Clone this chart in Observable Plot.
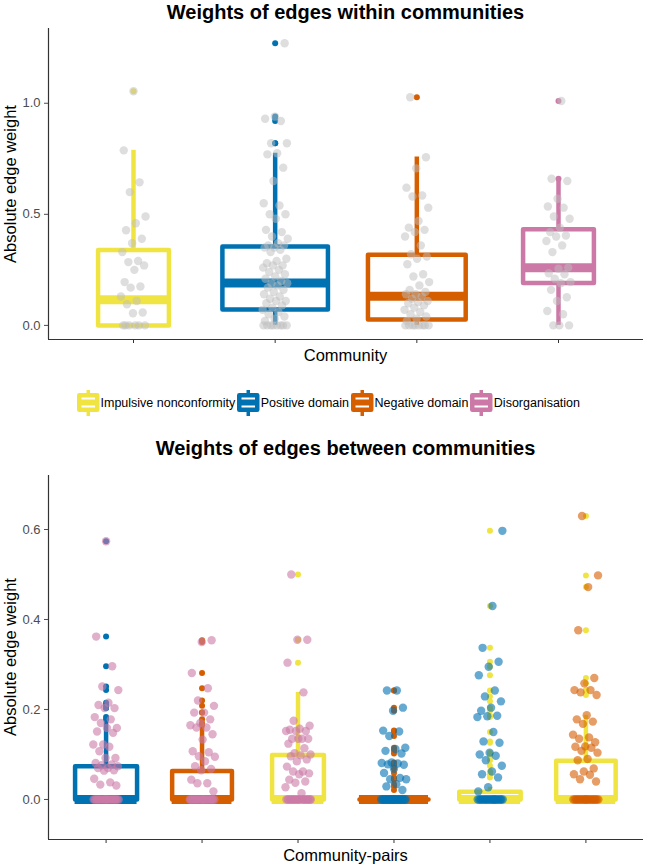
<!DOCTYPE html>
<html><head><meta charset="utf-8">
<script src="https://cdn.jsdelivr.net/npm/d3@7"></script>
<script src="https://cdn.jsdelivr.net/npm/@observablehq/plot@0.6"></script>
<style>
body{margin:0;background:#fff;font-family:"Liberation Sans",Arial,sans-serif;}
#wrap{position:relative;width:646px;height:866px;overflow:hidden;}
.abs{position:absolute;}
.title{left:48px;width:595px;text-align:center;font-weight:bold;font-size:20px;line-height:24px;color:#000;white-space:nowrap;}
.xlab{left:48px;width:595px;text-align:center;font-size:16.5px;line-height:20px;color:#000;white-space:nowrap;}
.ylab{width:300px;height:20px;text-align:center;font-size:16.5px;line-height:20px;color:#000;transform:rotate(-90deg);white-space:nowrap;}
.legend{display:flex;align-items:center;font-size:12.5px;color:#000;white-space:nowrap;}
.legend span{margin-left:1px;margin-right:2px;}
svg{overflow:visible;}
</style></head>
<body><div id="wrap"></div>
<script>
// ---------- shared ----------
const communities = ["Impulsive nonconformity", "Positive domain", "Negative domain", "Disorganisation"];
const communityColors = ["#F0E442", "#0072B2", "#D55E00", "#CC79A7"];

// ---------- top panel: within communities ----------
const withinImpulsive = [1.054, 0.788, 0.644, 0.60, 0.49, 0.46, 0.428, 0.39, 0.37, 0.33, 0.29, 0.285, 0.27, 0.25, 0.195, 0.175, 0.17, 0.13, 0.11, 0.095, 0.058, 0.055, 0, 0, 0, 0, 0, 0];
const withinPositive = [1.27, 0.94, 0.93, 0.92, 0.82, 0.82, 0.775, 0.77, 0.71, 0.65, 0.55, 0.54, 0.50, 0.50, 0.48, 0.43, 0.42, 0.40, 0.39, 0.37, 0.36, 0.36, 0.35, 0.35, 0.34, 0.33, 0.30, 0.29, 0.28, 0.27, 0.27, 0.26, 0.25, 0.24, 0.23, 0.22, 0.21, 0.20, 0.19, 0.19, 0.18, 0.17, 0.16, 0.15, 0.14, 0.13, 0.12, 0.11, 0.11, 0.10, 0.09, 0.08, 0.07, 0.06, 0.05, 0.04, 0.03, 0.02, 0, 0, 0, 0, 0, 0, 0, 0];
const withinNegative = [1.027, 0.757, 0.707, 0.62, 0.585, 0.58, 0.53, 0.47, 0.44, 0.43, 0.42, 0.40, 0.36, 0.32, 0.31, 0.30, 0.275, 0.23, 0.22, 0.195, 0.18, 0.16, 0.15, 0.14, 0.14, 0.13, 0.12, 0.11, 0.105, 0.10, 0.09, 0.08, 0.07, 0.06, 0.05, 0.04, 0.03, 0.02, 0, 0, 0, 0, 0, 0, 0, 0];
const withinDisorganisation = [1.01, 0.66, 0.65, 0.57, 0.535, 0.53, 0.49, 0.48, 0.44, 0.42, 0.405, 0.40, 0.38, 0.36, 0.33, 0.26, 0.255, 0.235, 0.23, 0.21, 0.195, 0.19, 0.16, 0.127, 0.11, 0.065, 0.05, 0, 0, 0];
const withinLower  = [0, 0, 0, 0];
const withinQ1     = [0, 0.071, 0.026, 0.191];
const withinMedian = [0.115, 0.191, 0.131, 0.259];
const withinQ3     = [0.339, 0.355, 0.318, 0.433];
const withinUpper  = [0.788, 0.775, 0.758, 0.658];
const withinTicks  = [0, 0.5, 1.0];

// ---------- bottom panel: between communities ----------
const pairBoxCommunity   = [1, 2, 0, 2, 0, 0];   // community colouring the boxplot
const pairPointCommunity = [3, 3, 3, 1, 1, 2];   // community colouring the points
const between1 = [0.574, 0.362, 0.296, 0.251, 0.243, 0.215, 0.21, 0.203, 0.203, 0.183, 0.178, 0.17, 0.159, 0.159, 0.151, 0.148, 0.122, 0.122, 0.117, 0.107, 0.092, 0.092, 0.081, 0.078, 0.076, 0.074, 0.07, 0.07, 0.065, 0.064, 0.046, 0.038, 0.033, 0.031, 0, 0, 0, 0, 0, 0, 0, 0, 0, 0, 0, 0, 0, 0, 0, 0, 0, 0, 0, 0, 0, 0];
const between2 = [0.354, 0.35, 0.281, 0.247, 0.22, 0.208, 0.193, 0.193, 0.178, 0.17, 0.165, 0.16, 0.16, 0.145, 0.133, 0.107, 0.105, 0.096, 0.095, 0.085, 0.074, 0.068, 0.065, 0.044, 0.036, 0.036, 0.018, 0, 0, 0, 0, 0, 0, 0, 0, 0, 0, 0, 0, 0, 0, 0, 0, 0, 0, 0, 0, 0, 0];
const between3 = [0.5, 0.355, 0.355, 0.304, 0.238, 0.175, 0.164, 0.157, 0.155, 0.152, 0.152, 0.152, 0.135, 0.135, 0.135, 0.135, 0.124, 0.114, 0.103, 0.1, 0.098, 0.096, 0.089, 0.085, 0.073, 0.062, 0.062, 0.058, 0.056, 0.044, 0.04, 0.037, 0.027, 0.014, 0, 0, 0, 0, 0, 0, 0, 0, 0, 0, 0, 0, 0, 0, 0, 0, 0, 0, 0, 0];
const between4 = [0.242, 0.242, 0.204, 0.197, 0.153, 0.151, 0.141, 0.115, 0.112, 0.108, 0.102, 0.082, 0.081, 0.08, 0.078, 0.077, 0.068, 0.059, 0.048, 0.045, 0.045, 0.034, 0.029, 0.021, 0, 0, 0, 0, 0, 0, 0, 0, 0, 0, 0, 0, 0, 0, 0, 0, 0, 0, 0, 0, 0, 0];
const between5 = [0.597, 0.43, 0.337, 0.306, 0.295, 0.276, 0.242, 0.229, 0.218, 0.204, 0.197, 0.186, 0.185, 0.183, 0.15, 0.129, 0.126, 0.104, 0.1, 0.097, 0.087, 0.075, 0.062, 0.056, 0.049, 0.027, 0.018, 0, 0, 0, 0, 0, 0, 0, 0, 0, 0, 0, 0, 0, 0, 0, 0, 0, 0, 0, 0, 0, 0];
const between6 = [0.63, 0.498, 0.472, 0.376, 0.27, 0.258, 0.243, 0.243, 0.238, 0.232, 0.187, 0.178, 0.173, 0.168, 0.144, 0.138, 0.135, 0.127, 0.118, 0.117, 0.115, 0.108, 0.104, 0.09, 0.087, 0.069, 0.062, 0.056, 0.055, 0.045, 0.04, 0, 0, 0, 0, 0, 0, 0, 0, 0, 0, 0, 0, 0, 0, 0, 0, 0, 0, 0, 0, 0, 0];
const betweenLower  = [0, 0, 0, 0, 0, 0];
const betweenQ1     = [0, 0, 0, 0, 0, 0];
const betweenMedian = [0, 0, 0, 0, 0, 0];
const betweenQ3     = [0.074, 0.063, 0.099, 0, 0.017, 0.086];
const betweenUpper  = [0.176, 0.16, 0.238, 0, 0.027, 0.187];
const betweenTicks  = [0, 0.2, 0.4, 0.6];

// ---------- style ----------
const FONT = "'Liberation Sans', Arial, sans-serif";
const withinBoxWidth  = [0.5, 0.745, 0.69, 0.5];
const betweenBoxWidth = [0.646, 0.623, 0.54, 0.72, 0.64, 0.62];

const golden = 0.6180339887498949;
function jitter(j, k) { const f = (j * golden + k * 0.37 + 0.5) % 1; return (f - 0.5) * 2; }

function panel(cfg) {
  const {values, lower, q1, median, q3, upper, boxWidth, boxColor, pointColor, pointOpacity,
         jitterWidth, yDomain, yTicks, height, marginTop, marginBottom} = cfg;
  const n = values.length;
  const xDomain = [0.4, n + 0.6];
  const boxes = d3.range(n).map(k => ({
    x: k + 1, x1: k + 1 - boxWidth[k] / 2, x2: k + 1 + boxWidth[k] / 2,
    lo: lower[k], q1: q1[k], med: median[k], q3: q3[k], hi: upper[k], color: boxColor[k]
  }));
  const outline = boxes.flatMap((b, k) =>
    [[b.x1, b.q1], [b.x2, b.q1], [b.x2, b.q3], [b.x1, b.q3], [b.x1, b.q1]]
      .map(([x, y]) => ({x, y, k, color: b.color})));
  const outliers = values.flatMap((arr, k) =>
    arr.filter(v => v > upper[k] || v < lower[k]).map(v => ({x: k + 1, y: v, color: boxColor[k]})));
  const points = values.flatMap((arr, k) =>
    arr.map((v, j) => ({x: k + 1 + jitter(j, k) * jitterWidth, y: v, color: pointColor[k]})));
  return Plot.plot({
    width: 646, height, marginLeft: 48, marginRight: 3, marginTop, marginBottom,
    x: {domain: xDomain}, y: {domain: yDomain}, color: {type: "identity"},
    style: {fontFamily: FONT, background: "transparent"},
    marks: [
      Plot.ruleX(boxes, {x: "x", y1: "q3", y2: "hi", stroke: d => d.color, strokeWidth: 4.5}),
      Plot.ruleX(boxes, {x: "x", y1: "lo", y2: "q1", stroke: d => d.color, strokeWidth: 4.5}),
      Plot.rect(boxes, {x1: "x1", x2: "x2", y1: "q1", y2: "q3", fill: "white"}),
      Plot.line(outline, {x: "x", y: "y", z: "k", stroke: d => d.color, strokeWidth: 4.5,
                          strokeLinejoin: "round", strokeLinecap: "round"}),
      Plot.ruleY(boxes, {y: "med", x1: "x1", x2: "x2", stroke: d => d.color, strokeWidth: 9}),
      Plot.dot(outliers, {x: "x", y: "y", fill: d => d.color, r: 3}),
      Plot.dot(points, {x: "x", y: "y", fill: d => d.color, fillOpacity: pointOpacity, r: 4.2}),
      Plot.ruleX([xDomain[0]], {stroke: "#333", strokeWidth: 1.2}),
      Plot.ruleY([yDomain[0]], {stroke: "#333", strokeWidth: 1.2}),
      Plot.axisY({ticks: yTicks, tickFormat: d3.format(".1f"), tickSize: 4, tickPadding: 4,
                  fontSize: 13, color: "#4d4d4d", label: null}),
      Plot.axisX({ticks: d3.range(1, n + 1), tickFormat: () => "", tickSize: 4, color: "#333", label: null})
    ]
  });
}

const wrap = document.getElementById("wrap");
function place(el, y, x) {
  el.style.position = "absolute"; el.style.top = y + "px"; el.style.left = x + "px";
  wrap.appendChild(el); return el;
}
function textDiv(cls, text, y, x) {
  const d = document.createElement("div"); d.className = "abs " + cls; d.textContent = text;
  d.style.top = y + "px"; if (x != null) d.style.left = x + "px"; wrap.appendChild(d); return d;
}

// top chart
const chartWithin = panel({
  values: [withinImpulsive, withinPositive, withinNegative, withinDisorganisation],
  lower: withinLower, q1: withinQ1, median: withinMedian, q3: withinQ3, upper: withinUpper,
  boxWidth: withinBoxWidth, boxColor: communityColors,
  pointColor: communityColors.map(() => "#bdbdbd"), pointOpacity: 0.5, jitterWidth: 0.09,
  yDomain: [-0.0635, 1.3365], yTicks: withinTicks, height: 345, marginTop: 28, marginBottom: 6
});
place(chartWithin, 0, 0);

// bottom chart
const chartBetween = panel({
  values: [between1, between2, between3, between4, between5, between6],
  lower: betweenLower, q1: betweenQ1, median: betweenMedian, q3: betweenQ3, upper: betweenUpper,
  boxWidth: betweenBoxWidth, boxColor: pairBoxCommunity.map(c => communityColors[c]),
  pointColor: pairPointCommunity.map(c => communityColors[c]), pointOpacity: 0.6, jitterWidth: 0.135,
  yDomain: [-0.089, 0.72], yTicks: betweenTicks, height: 395, marginTop: 25, marginBottom: 6
});
place(chartBetween, 450, 0);

// titles and axis titles
textDiv("title", "Weights of edges within communities", 0);
textDiv("title", "Weights of edges between communities", 436);
textDiv("xlab", "Community", 345);
textDiv("xlab", "Community-pairs", 845);
textDiv("ylab", "Absolute edge weight", 173.5, 9.5 - 150);
textDiv("ylab", "Absolute edge weight", 647, 9.5 - 150);

// legend
const legend = document.createElement("div");
legend.className = "abs legend";
legend.style.top = "390px"; legend.style.left = "77px"; legend.style.height = "26px";
communities.forEach((name, k) => {
  const c = communityColors[k];
  const key = d3.create("svg").attr("width", 22.5).attr("height", 26).style("display", "block");
  key.append("line").attr("x1", 11.25).attr("x2", 11.25).attr("y1", 0).attr("y2", 26)
     .attr("stroke", c).attr("stroke-width", 3.5);
  key.append("rect").attr("x", 2.25).attr("y", 5.25).attr("width", 18).attr("height", 14.5)
     .attr("fill", "white").attr("stroke", c).attr("stroke-width", 4.5).attr("stroke-linejoin", "round");
  key.append("line").attr("x1", 2.25).attr("x2", 20.25).attr("y1", 12.5).attr("y2", 12.5)
     .attr("stroke", c).attr("stroke-width", 6);
  legend.appendChild(key.node());
  const s = document.createElement("span"); s.textContent = name; legend.appendChild(s);
});
wrap.appendChild(legend);
</script></body></html>
